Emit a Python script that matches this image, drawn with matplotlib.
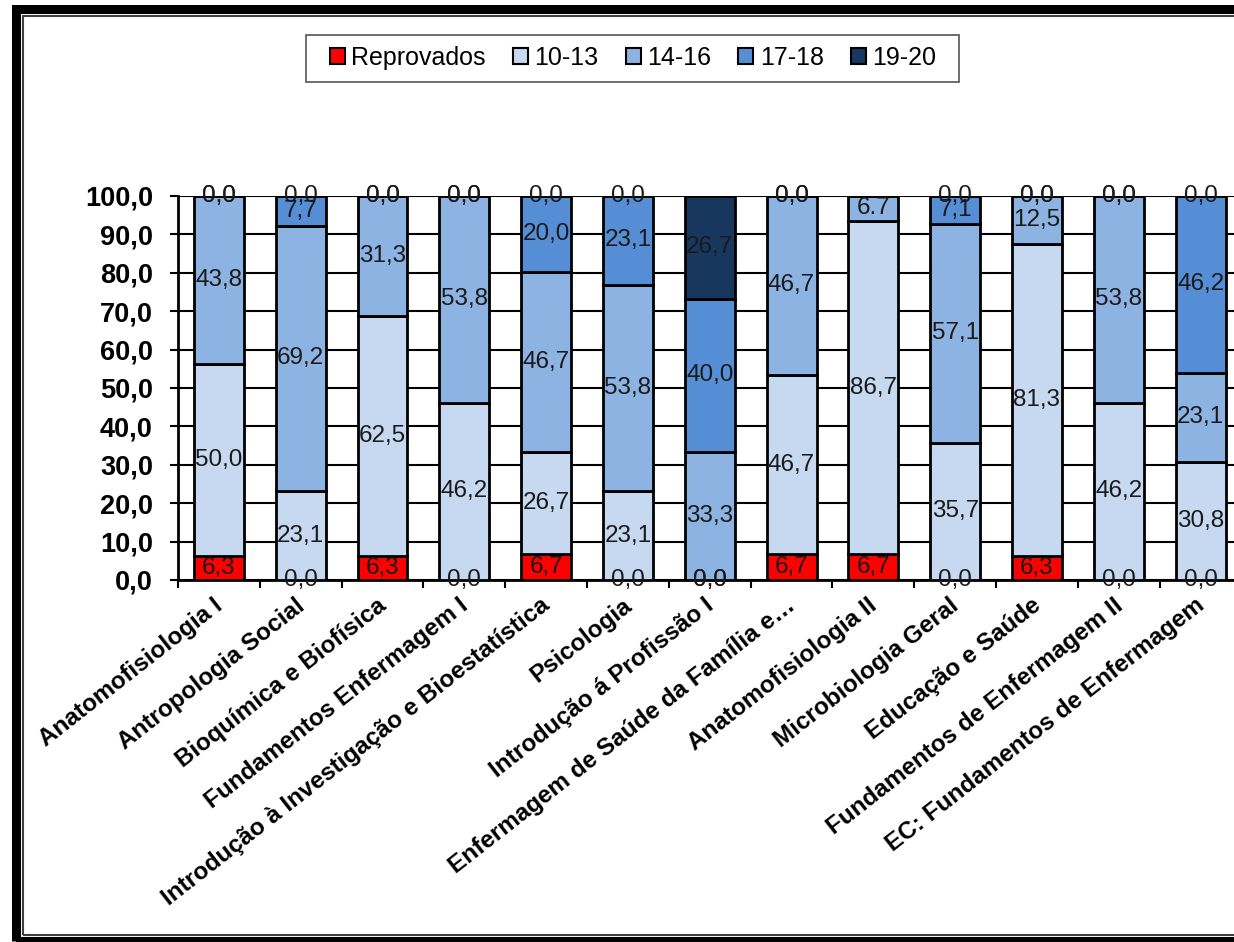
import matplotlib.pyplot as plt
import matplotlib.transforms as mtransforms
import numpy as np
from matplotlib.patches import Rectangle

plt.rcParams['font.family'] = ['Liberation Sans', 'DejaVu Sans']

# ─── Dados ─────────────────────────────────────────────────────────────────────
disciplinas = [
    "Anatomofisiologia I",
    "Antropologia Social",
    "Bioquímica e Biofísica",
    "Fundamentos Enfermagem I",
    "Introdução à Investigação e Bioestatística",
    "Psicologia",
    "Introdução á Profissão I",
    "Enfermagem de Saúde da Família e…",
    "Anatomofisiologia II",
    "Microbiologia Geral",
    "Educação e Saúde",
    "Fundamentos de Enfermagem II",
    "EC: Fundamentos de Enfermagem",
]
series = ["Reprovados", "10-13", "14-16", "17-18", "19-20"]

reprovados = [6.3, 0.0, 6.3, 0.0, 6.7, 0.0, 0.0, 6.7, 6.7, 0.0, 6.3, 0.0, 0.0]
n_10_13 = [50.0, 23.1, 62.5, 46.2, 26.7, 23.1, 0.0, 46.7, 86.7, 35.7, 81.3, 46.2, 30.8]
n_14_16 = [43.8, 69.2, 31.3, 53.8, 46.7, 53.8, 33.3, 46.7, 6.7, 57.1, 12.5, 53.8, 23.1]
n_17_18 = [0.0, 7.7, 0.0, 0.0, 20.0, 23.1, 40.0, 0.0, np.nan, 7.1, 0.0, 0.0, 46.2]
n_19_20 = [0.0, 0.0, 0.0, 0.0, 0.0, 0.0, 26.7, 0.0, np.nan, 0.0, 0.0, 0.0, 0.0]

cores = ["#FF0000", "#C6D9F1", "#8DB3E2", "#558ED5", "#17375E"]

valores = [reprovados, n_10_13, n_14_16, n_17_18, n_19_20]

# ─── Figura ────────────────────────────────────────────────────────────────────
W, H = 1234, 942
fig = plt.figure(figsize=(W / 100, H / 100), dpi=100)

# moldura dupla à volta do gráfico
fig.patches.append(Rectangle((15.5 / W, 1 - 941 / H), 1.2, (941 - 8.5) / H,
                             transform=fig.transFigure, fill=False,
                             edgecolor='black', linewidth=6.5))
fig.patches.append(Rectangle((23 / W, 1 - 935 / H), 1.2, (935 - 16) / H,
                             transform=fig.transFigure, fill=False,
                             edgecolor='#404040', linewidth=1.5))

left, right = 178 / W, 1241.5 / W
bottom, top = 1 - 580 / H, 1 - 196 / H
ax = fig.add_axes([left, bottom, right - left, top - bottom])

x = np.arange(len(disciplinas))
base = np.zeros(len(disciplinas))
barras = []
for nome, vals, cor in zip(series, valores, cores):
    v = np.array(vals, dtype=float)
    h = np.nan_to_num(v)
    b = ax.bar(x, h, bottom=base, width=0.61, color=cor, edgecolor='black',
               linewidth=2, label=nome, zorder=3)
    barras.append(b)
    for i in range(len(x)):
        if np.isnan(v[i]):
            continue
        txt = f"{v[i]:.1f}".replace('.', ',')
        if nome == "14-16" and i == 8:
            txt = "6.7"
        ax.text(x[i], base[i] + h[i] / 2, txt, ha='center', va='center',
                fontsize=17.5, color='#1a1a1a', zorder=5)
    base = base + h

ax.set_xlim(-0.5, len(x) - 0.5)
ax.set_ylim(0, 100)
ax.set_yticks(np.arange(0, 101, 10))
ax.set_yticklabels([f"{t:.1f}".replace('.', ',') for t in np.arange(0, 101, 10)],
                   fontsize=19.5, fontweight='bold')
ax.yaxis.grid(True, color='black', linewidth=1.5, zorder=0)
ax.set_axisbelow(True)

ax.set_xticks(x)
ax.set_xticklabels(disciplinas, rotation=38, ha='right', rotation_mode='anchor',
                   fontsize=17.5, fontweight='bold')
ax.tick_params(axis='x', length=0, pad=10)
desloc = mtransforms.ScaledTranslation(-6 / 100, 0, fig.dpi_scale_trans)
for lbl in ax.get_xticklabels():
    lbl.set_transform(lbl.get_transform() + desloc)
ax.set_xticks(np.arange(-0.5, len(x), 1), minor=True)
ax.tick_params(axis='x', which='minor', length=6, width=1.5, direction='out')
ax.tick_params(axis='y', length=6, width=1.5, direction='out', pad=12)

for s in ['top', 'right']:
    ax.spines[s].set_visible(False)
ax.spines['left'].set_linewidth(2)
ax.spines['bottom'].set_linewidth(2)

# legenda com caixa própria
leg = fig.legend(handles=barras, labels=series, loc='center',
                 bbox_to_anchor=(633 / W, 1 - 58 / H), ncol=5, fontsize=18,
                 frameon=False, handlelength=0.6, handleheight=0.6,
                 handletextpad=0.25, columnspacing=1.1)
for p in leg.get_patches():
    p.set_linewidth(1.5)
fig.patches.append(Rectangle((306 / W, 1 - 82 / H), (959 - 306) / W, 47 / H,
                             transform=fig.transFigure, fill=False,
                             edgecolor='#555555', linewidth=1.2))

fig.savefig("out.png", dpi=100)
